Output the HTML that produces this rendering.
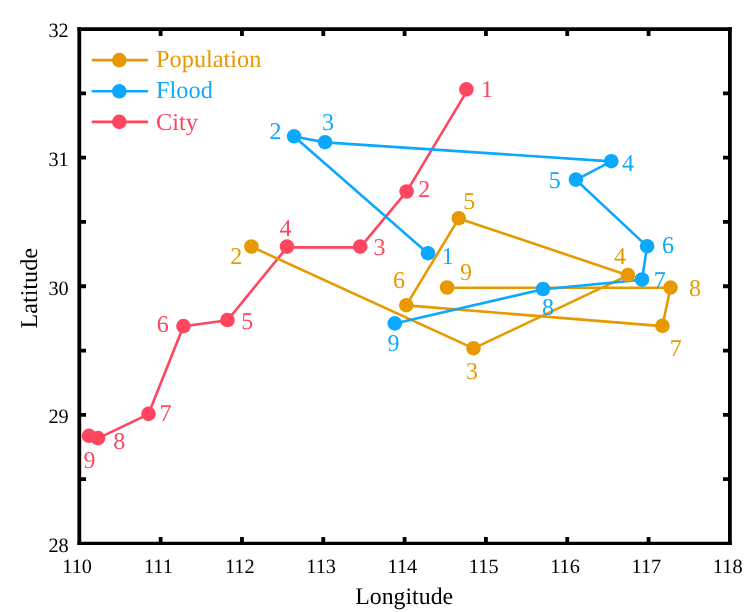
<!DOCTYPE html>
<html><head><meta charset="utf-8"><style>
html,body{margin:0;padding:0;background:#fff;}
svg{display:block;will-change:transform;font-family:"Liberation Serif",serif;}
text{text-rendering:geometricPrecision;}
</style></head><body>
<svg width="755" height="612" viewBox="0 0 755 612">
<rect width="755" height="612" fill="#fff"/>
<g transform="translate(0,0.2)">
<path d="M467.8,89.4 L406.6,191.5 L360.2,247.2 L287,247.2 L227.5,320 L183.4,326.1 L148.5,413.9 L98,438.1 L89,435.8" fill="none" stroke="#FE4660" stroke-width="2.6" stroke-linejoin="round"/>
<path d="M251.4,246.5 L473.5,348.2 L627.9,275.1 L458.8,218.2 L406.3,305.2 L662.4,325.9 L670.5,287.55 L447.1,287.5" fill="none" stroke="#E69900" stroke-width="2.6" stroke-linejoin="round"/>
<path d="M428,253.2 L294.1,136.3 L325.1,142.2 L611.3,161.2 L575.9,179.6 L647.1,246.2 L642,279.5 L543,289 L394.8,323.4" fill="none" stroke="#0BA8FE" stroke-width="2.6" stroke-linejoin="round"/>
</g>
<circle cx="251.4" cy="246.5" r="7.3" fill="#E69900"/>
<circle cx="473.5" cy="348.2" r="7.3" fill="#E69900"/>
<circle cx="627.9" cy="275.1" r="7.3" fill="#E69900"/>
<circle cx="458.8" cy="218.2" r="7.3" fill="#E69900"/>
<circle cx="406.3" cy="305.2" r="7.3" fill="#E69900"/>
<circle cx="662.4" cy="325.9" r="7.3" fill="#E69900"/>
<circle cx="670.5" cy="287.55" r="7.3" fill="#E69900"/>
<circle cx="447.1" cy="287.5" r="7.3" fill="#E69900"/>
<circle cx="428" cy="253.2" r="7.3" fill="#0BA8FE"/>
<circle cx="294.1" cy="136.3" r="7.3" fill="#0BA8FE"/>
<circle cx="325.1" cy="142.2" r="7.3" fill="#0BA8FE"/>
<circle cx="611.3" cy="161.2" r="7.3" fill="#0BA8FE"/>
<circle cx="575.9" cy="179.6" r="7.3" fill="#0BA8FE"/>
<circle cx="647.1" cy="246.2" r="7.3" fill="#0BA8FE"/>
<circle cx="642" cy="279.5" r="7.3" fill="#0BA8FE"/>
<circle cx="543" cy="289" r="7.3" fill="#0BA8FE"/>
<circle cx="394.8" cy="323.4" r="7.3" fill="#0BA8FE"/>
<circle cx="466.4" cy="89.4" r="7.3" fill="#FE4660"/>
<circle cx="406.6" cy="191.5" r="7.3" fill="#FE4660"/>
<circle cx="360.2" cy="246.6" r="7.3" fill="#FE4660"/>
<circle cx="287" cy="246.6" r="7.3" fill="#FE4660"/>
<circle cx="227.5" cy="320" r="7.3" fill="#FE4660"/>
<circle cx="183.4" cy="326.1" r="7.3" fill="#FE4660"/>
<circle cx="148.5" cy="413.9" r="7.3" fill="#FE4660"/>
<circle cx="98" cy="438.1" r="7.3" fill="#FE4660"/>
<circle cx="89" cy="435.8" r="7.3" fill="#FE4660"/>
<text x="236.3" y="264" fill="#E69900" font-size="24.0" text-anchor="middle">2</text>
<text x="472" y="379" fill="#E69900" font-size="24.0" text-anchor="middle">3</text>
<text x="619.9" y="264" fill="#E69900" font-size="24.0" text-anchor="middle">4</text>
<text x="469.3" y="209" fill="#E69900" font-size="24.0" text-anchor="middle">5</text>
<text x="399" y="288" fill="#E69900" font-size="24.0" text-anchor="middle">6</text>
<text x="675.7" y="356" fill="#E69900" font-size="24.0" text-anchor="middle">7</text>
<text x="695" y="296" fill="#E69900" font-size="24.0" text-anchor="middle">8</text>
<text x="465.9" y="280" fill="#E69900" font-size="24.0" text-anchor="middle">9</text>
<text x="447.7" y="264" fill="#0BA8FE" font-size="24.0" text-anchor="middle">1</text>
<text x="275.6" y="139" fill="#0BA8FE" font-size="24.0" text-anchor="middle">2</text>
<text x="328" y="130" fill="#0BA8FE" font-size="24.0" text-anchor="middle">3</text>
<text x="628" y="171" fill="#0BA8FE" font-size="24.0" text-anchor="middle">4</text>
<text x="554.7" y="188" fill="#0BA8FE" font-size="24.0" text-anchor="middle">5</text>
<text x="667.9" y="253" fill="#0BA8FE" font-size="24.0" text-anchor="middle">6</text>
<text x="659.8" y="288" fill="#0BA8FE" font-size="24.0" text-anchor="middle">7</text>
<text x="547.9" y="315" fill="#0BA8FE" font-size="24.0" text-anchor="middle">8</text>
<text x="393.4" y="351" fill="#0BA8FE" font-size="24.0" text-anchor="middle">9</text>
<text x="487" y="97" fill="#FE4660" font-size="24.0" text-anchor="middle">1</text>
<text x="424.3" y="197" fill="#FE4660" font-size="24.0" text-anchor="middle">2</text>
<text x="379.4" y="255" fill="#FE4660" font-size="24.0" text-anchor="middle">3</text>
<text x="285.6" y="236" fill="#FE4660" font-size="24.0" text-anchor="middle">4</text>
<text x="247.2" y="329" fill="#FE4660" font-size="24.0" text-anchor="middle">5</text>
<text x="162.7" y="332" fill="#FE4660" font-size="24.0" text-anchor="middle">6</text>
<text x="165.4" y="421" fill="#FE4660" font-size="24.0" text-anchor="middle">7</text>
<text x="119.2" y="449" fill="#FE4660" font-size="24.0" text-anchor="middle">8</text>
<text x="89.5" y="468" fill="#FE4660" font-size="24.0" text-anchor="middle">9</text>
<path d="M92.8,60.1 H147" stroke="#E69900" stroke-width="2.6" stroke-linecap="round"/>
<circle cx="119.3" cy="60.1" r="7.3" fill="#E69900"/>
<text x="156.1" y="67.0" fill="#E69900" font-size="24.3">Population</text>
<path d="M92.8,91.3 H147" stroke="#0BA8FE" stroke-width="2.6" stroke-linecap="round"/>
<circle cx="119.3" cy="91.3" r="7.3" fill="#0BA8FE"/>
<text x="156.1" y="97.7" fill="#0BA8FE" font-size="24.3">Flood</text>
<path d="M92.8,121.9 H147" stroke="#FE4660" stroke-width="2.6" stroke-linecap="round"/>
<circle cx="119.3" cy="121.9" r="7.3" fill="#FE4660"/>
<text x="156.1" y="130.2" fill="#FE4660" font-size="24.3">City</text>
<path d="M77.39999999999999,29.1 H731.8" stroke="#000" stroke-width="3.8"/>
<path d="M77.39999999999999,543.4 H731.8" stroke="#000" stroke-width="3.3"/>
<path d="M79.3,27.200000000000003 V545.05" stroke="#000" stroke-width="3.8"/>
<path d="M729.9,27.200000000000003 V545.05" stroke="#000" stroke-width="3.8"/>
<path d="M160.62,543.4 V537 M160.62,29.1 V36 M241.95,543.4 V537 M241.95,29.1 V36 M323.28,543.4 V537 M323.28,29.1 V36 M404.60,543.4 V537 M404.60,29.1 V36 M485.93,543.4 V537 M485.93,29.1 V36 M567.25,543.4 V537 M567.25,29.1 V36 M648.57,543.4 V537 M648.57,29.1 V36 M79.3,93.39 H86 M729.9,93.39 H723 M79.3,157.67 H86 M729.9,157.67 H723 M79.3,221.96 H86 M729.9,221.96 H723 M79.3,286.25 H86 M729.9,286.25 H723 M79.3,350.54 H86 M729.9,350.54 H723 M79.3,414.82 H86 M729.9,414.82 H723 M79.3,479.11 H86 M729.9,479.11 H723" stroke="#000" stroke-width="3.8" fill="none"/>
<text x="77.1" y="573" font-size="20.3" text-anchor="middle">110</text>
<text x="158.4" y="573" font-size="20.3" text-anchor="middle">111</text>
<text x="239.8" y="573" font-size="20.3" text-anchor="middle">112</text>
<text x="321.1" y="573" font-size="20.3" text-anchor="middle">113</text>
<text x="402.4" y="573" font-size="20.3" text-anchor="middle">114</text>
<text x="483.7" y="573" font-size="20.3" text-anchor="middle">115</text>
<text x="565.0" y="573" font-size="20.3" text-anchor="middle">116</text>
<text x="646.4" y="573" font-size="20.3" text-anchor="middle">117</text>
<text x="727.7" y="573" font-size="20.3" text-anchor="middle">118</text>
<text x="68.7" y="37.4" font-size="20.3" text-anchor="end">32</text>
<text x="68.7" y="166.0" font-size="20.3" text-anchor="end">31</text>
<text x="68.7" y="294.6" font-size="20.3" text-anchor="end">30</text>
<text x="68.7" y="423.1" font-size="20.3" text-anchor="end">29</text>
<text x="68.7" y="551.7" font-size="20.3" text-anchor="end">28</text>
<text x="404.2" y="603.5" font-size="23.8" text-anchor="middle">Longitude</text>
<text transform="translate(37,288.3) rotate(-90)" x="0" y="0" font-size="24.2" text-anchor="middle">Latitude</text>
</svg>
</body></html>
